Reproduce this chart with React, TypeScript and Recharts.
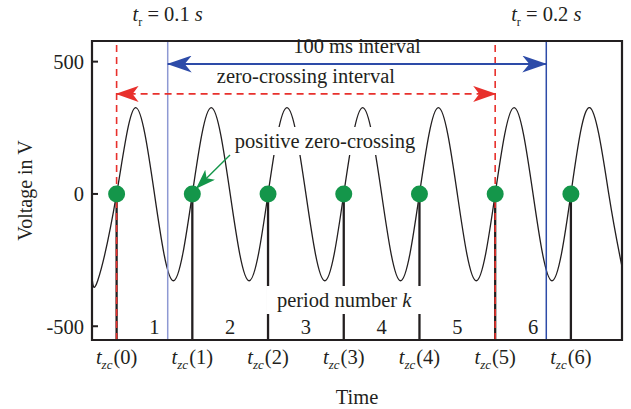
import {
  ComposedChart, Line, Scatter, XAxis, YAxis,
  ReferenceLine, ReferenceArea, ReferenceDot
} from "recharts";

const FONT = "'Liberation Serif', 'DejaVu Serif', serif";
const INK = "#231f20";
const BLUE = "#2d4ba8";
const BLUE_LIGHT = "#8e99d3";
const RED = "#e8302c";
const GREEN = "#14964a";

// time in ms, voltage in V (zero crossings, peaks, troughs)
const waveTimes = [
  80, 81.5, 86.5, 91.5, 96.5, 101.5, 106.5, 111.5, 116.5, 121.5, 126.5,
  131.5, 136.5, 141.5, 146.5, 151.5, 156.5, 161.5, 166.5, 171.5, 176.5,
  181.5, 186.5, 191.5, 196.5, 201.5, 206.5, 211.5, 216.5, 220
];
const waveVolts = [
  -312, -328, 0, 326, 0, -328, 0, 326, 0, -328, 0,
  326, 0, -328, 0, 326, 0, -328, 0, 326, 0,
  -328, 0, 326, 0, -328, 0, 326, 0, -275
];

const crossings = [86.5, 106.5, 126.5, 146.5, 166.5, 186.5, 206.5];
const crossingLabels = ["0", "1", "2", "3", "4", "5", "6"];
const periodNumbers = ["1", "2", "3", "4", "5", "6"];
const refTimes = [100, 200];
const refLabels = ["0.1", "0.2"];
const yTicks = [-500, 0, 500];

const X_DOMAIN = [80, 220];
const Y_DOMAIN = [-552, 578];

const waveData = waveTimes.map((t, i) => ({ t, v: waveVolts[i] }));
const dotData = crossings.map((t) => ({ t, v: 0 }));

const XTick = (props: any) => {
  const { x, y, payload } = props;
  const i = crossings.indexOf(payload.value);
  return (
    <text x={x} y={y + 24} textAnchor="middle" fontFamily={FONT} fontSize={20.5} fill={INK}>
      <tspan fontStyle="italic">t</tspan>
      <tspan fontStyle="italic" fontSize={13} dy={5}>zc</tspan>
      <tspan dy={-5} dx={1}>({crossingLabels[i]})</tspan>
    </text>
  );
};

const arrowShape = (color: string, dashed: boolean, width: number, start: boolean, head: string) => (p: any) => (
  <line
    x1={p.x1} y1={p.y1} x2={p.x2} y2={p.y2}
    stroke={color}
    strokeWidth={width}
    strokeDasharray={dashed ? "7 5" : undefined}
    markerStart={start ? `url(#${head})` : undefined}
    markerEnd={`url(#${head})`}
  />
);

export default function App() {
  return (
    <div style={{ position: "absolute", left: 0, top: 0, background: "#fff" }}>
      <ComposedChart
        width={631}
        height={409}
        data={waveData}
        margin={{ top: 41, right: 9, bottom: 0, left: 0 }}
      >
        <defs>
          <marker id="hBlue" viewBox="0 0 25 17" refX="24" refY="8.5" markerWidth="25" markerHeight="17"
            markerUnits="userSpaceOnUse" orient="auto-start-reverse">
            <path d="M0,0 L25,8.5 L0,17 L7,8.5 Z" fill={BLUE} />
          </marker>
          <marker id="hRed" viewBox="0 0 23 16" refX="22" refY="8" markerWidth="23" markerHeight="16"
            markerUnits="userSpaceOnUse" orient="auto-start-reverse">
            <path d="M0,0 L23,8 L0,16 L6,8 Z" fill={RED} />
          </marker>
          <marker id="hGreen" viewBox="0 0 20 14" refX="19" refY="7" markerWidth="20" markerHeight="14"
            markerUnits="userSpaceOnUse" orient="auto">
            <path d="M0,0 L20,7 L0,14 L5,7 Z" fill={GREEN} />
          </marker>
        </defs>

        <XAxis
          dataKey="t"
          type="number"
          domain={X_DOMAIN}
          ticks={crossings}
          interval={0}
          height={69}
          tickLine={false}
          axisLine={false}
          tickSize={0}
          tickMargin={0}
          tick={<XTick />}
          label={(p: any) => (
            <text
              x={p.viewBox.x + p.viewBox.width / 2}
              y={p.viewBox.y + 57}
              textAnchor="middle"
              dominantBaseline="central"
              fontFamily={FONT}
              fontSize={20.5}
              fill={INK}
            >
              Time
            </text>
          )}
        />
        <YAxis
          type="number"
          domain={Y_DOMAIN}
          ticks={yTicks}
          allowDataOverflow
          width={92}
          axisLine={false}
          tickSize={-6}
          tickMargin={14}
          tickLine={{ stroke: INK, strokeWidth: 2 }}
          tick={{ fontFamily: FONT, fontSize: 20.5, fill: INK }}
          label={(p: any) => {
            const cx = p.viewBox.x + 25;
            const cy = p.viewBox.y + p.viewBox.height / 2;
            return (
              <text
                x={cx}
                y={cy}
                transform={`rotate(-90 ${cx} ${cy})`}
                textAnchor="middle"
                dominantBaseline="central"
                fontFamily={FONT}
                fontSize={20}
                fill={INK}
              >
                Voltage in V
              </text>
            );
          }}
        />

        {/* stems from each zero crossing down to the axis */}
        {crossings.map((t) => (
          <ReferenceLine
            key={`stem-${t}`}
            segment={[{ x: t, y: 0 }, { x: t, y: Y_DOMAIN[0] }]}
            stroke={INK}
            strokeWidth={2.3}
            zIndex={350}
          />
        ))}

        <Line
          dataKey="v"
          type="natural"
          stroke={INK}
          strokeWidth={1.3}
          dot={false}
          activeDot={false}
          isAnimationActive={false}
          zIndex={400}
        />

        <ReferenceArea
          x1={115.9} x2={167.2} y1={147} y2={253}
          fill="#fff" fillOpacity={1} stroke="none"
          zIndex={450}
          label={{ value: "positive zero-crossing", position: "center", fontFamily: FONT, fontSize: 20.5, fill: INK }}
        />
        <ReferenceArea
          x1={126} x2={167.2} y1={-454} y2={-348}
          fill="#fff" fillOpacity={1} stroke="none"
          zIndex={450}
          label={(p: any) => (
            <text
              x={p.viewBox.x + p.viewBox.width / 2}
              y={p.viewBox.y + p.viewBox.height / 2}
              textAnchor="middle"
              dominantBaseline="central"
              fontFamily={FONT}
              fontSize={20.5}
              fill={INK}
            >
              period number <tspan fontStyle="italic">k</tspan>
            </text>
          )}
        />

        {periodNumbers.map((k, i) => (
          <ReferenceDot
            key={`pn-${k}`}
            x={(crossings[i] + crossings[i + 1]) / 2}
            y={-503}
            r={0}
            fill="none"
            stroke="none"
            zIndex={460}
            label={{ value: k, position: "center", fontFamily: FONT, fontSize: 20.5, fill: INK }}
          />
        ))}

        {/* red dashed markers at t_zc(0) and t_zc(5) */}
        {[crossings[0], crossings[5]].map((t) => (
          <ReferenceLine key={`red-${t}`} x={t} stroke={RED} strokeWidth={1.6} strokeDasharray="7 5" zIndex={470} />
        ))}

        {/* t_r reference lines */}
        {refTimes.map((t, i) => (
          <ReferenceLine
            key={`tr-${t}`}
            x={t}
            stroke={i === 0 ? BLUE_LIGHT : BLUE}
            strokeWidth={1.5}
            zIndex={470}
            label={(p: any) => (
              <text
                x={p.viewBox.x}
                y={p.viewBox.y - 20}
                textAnchor="middle"
                fontFamily={FONT}
                fontSize={20.5}
                fill={INK}
              >
                <tspan fontStyle="italic">t</tspan>
                <tspan fontSize={12} dy={5}>r</tspan>
                <tspan dy={-5}> = {refLabels[i]} </tspan>
                <tspan fontStyle="italic">s</tspan>
              </text>
            )}
          />
        ))}

        {/* interval arrows */}
        <ReferenceLine
          segment={[{ x: refTimes[0], y: 491 }, { x: refTimes[1], y: 491 }]}
          shape={arrowShape(BLUE, false, 2, true, "hBlue")}
          zIndex={480}
          label={(p: any) => (
            <text
              x={p.viewBox.x + p.viewBox.width / 2}
              y={p.viewBox.y - 11}
              textAnchor="middle"
              fontFamily={FONT}
              fontSize={20.5}
              fill={INK}
            >
              100 ms interval
            </text>
          )}
        />
        <ReferenceLine
          segment={[{ x: crossings[0], y: 378 }, { x: crossings[5], y: 378 }]}
          shape={arrowShape(RED, true, 1.6, true, "hRed")}
          zIndex={480}
          label={(p: any) => (
            <text
              x={p.viewBox.x + p.viewBox.width / 2}
              y={p.viewBox.y - 11}
              textAnchor="middle"
              fontFamily={FONT}
              fontSize={20.5}
              fill={INK}
            >
              zero-crossing interval
            </text>
          )}
        />

        <Scatter
          data={dotData}
          dataKey="v"
          isAnimationActive={false}
          zIndex={600}
          shape={(p: any) => <circle cx={p.cx} cy={p.cy} r={8.5} fill={GREEN} />}
        />

        <ReferenceLine
          segment={[{ x: 116.45, y: 147 }, { x: 107.65, y: 22 }]}
          shape={arrowShape(GREEN, false, 1.4, false, "hGreen")}
          zIndex={650}
        />

        {/* plot frame */}
        <ReferenceArea
          x1={X_DOMAIN[0]} x2={X_DOMAIN[1]} y1={Y_DOMAIN[0]} y2={Y_DOMAIN[1]}
          fill="none" stroke={INK} strokeWidth={2.2}
          zIndex={700}
        />
      </ComposedChart>
    </div>
  );
}
